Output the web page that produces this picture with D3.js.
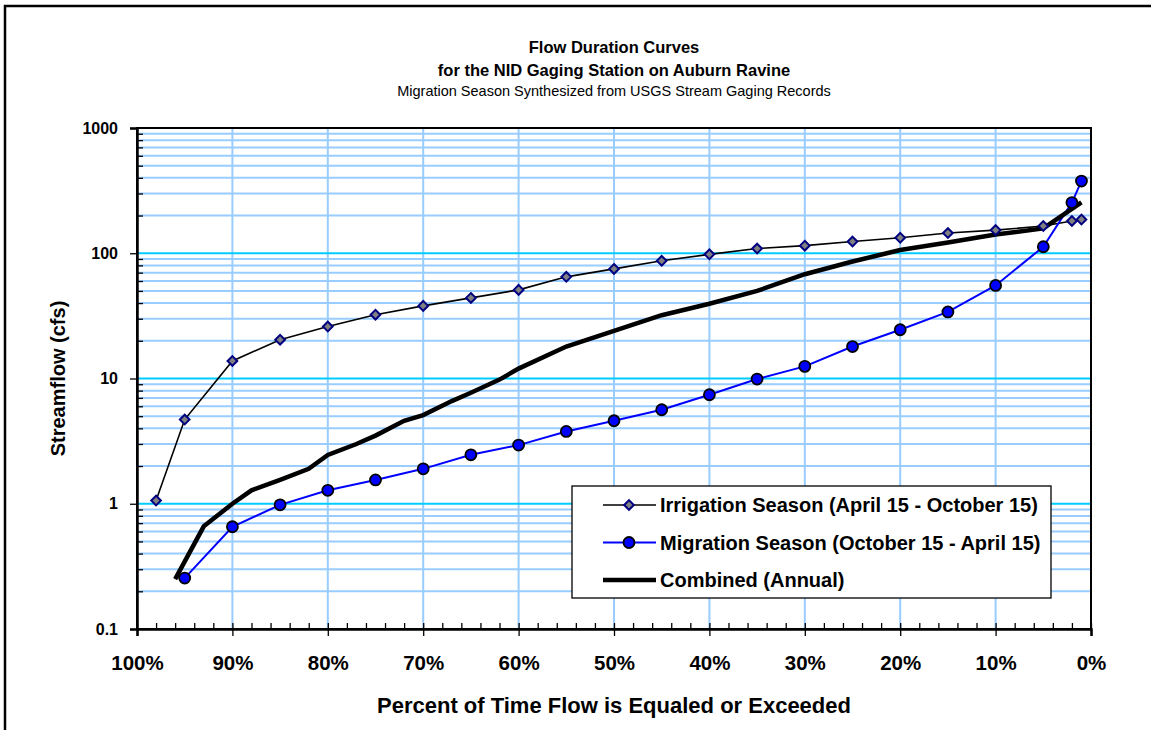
<!DOCTYPE html>
<html>
<head>
<meta charset="utf-8">
<script src="https://cdn.jsdelivr.net/npm/d3@7"></script>
<style>
  body { margin: 0; background: #fff; }
  text { font-family: "Liberation Sans", Arial, sans-serif; }
</style>
</head>
<body>
<div id="container"></div>
<script>
// data
const pctTicks = [100, 90, 80, 70, 60, 50, 40, 30, 20, 10, 0]
const flowTicks = [0.1, 1, 10, 100, 1000]

const irrPct = [98, 95, 90, 85, 80, 75, 70, 65, 60, 55, 50, 45, 40, 35, 30, 25, 20, 15, 10, 5, 2, 1]
const irrFlow = [1.06, 4.7, 13.8, 20.4, 26, 32.3, 38, 44, 51, 64.8, 75, 87, 98, 109, 115, 124, 133, 145, 153, 165, 181, 186]

const migPct = [95, 90, 85, 80, 75, 70, 65, 60, 55, 50, 45, 40, 35, 30, 25, 20, 15, 10, 5, 2, 1]
const migFlow = [0.255, 0.655, 0.98, 1.28, 1.55, 1.9, 2.46, 2.94, 3.78, 4.6, 5.63, 7.42, 9.9, 12.5, 18, 24.5, 34, 55.3, 112.7, 254, 377]

const comPct = [96, 93, 90, 88, 85, 82, 80, 77, 75, 72, 70, 67, 65, 62, 60, 55, 50, 45, 40, 35, 30, 25, 20, 15, 10, 5, 1]
const comFlow = [0.25, 0.66, 1.0, 1.28, 1.55, 1.9, 2.45, 3.0, 3.5, 4.6, 5.1, 6.6, 7.7, 9.8, 12, 18, 24, 32, 39.5, 50, 68, 86, 106, 122, 141, 158, 255]

const legendLabels = [
  "Irrigation Season (April 15 - October 15)",
  "Migration Season (October 15 - April 15)",
  "Combined (Annual)"
]

/**
 * CONSTANTS
 */
const w = 1151
const h = 730
const m = { top: 128, bottom: 101, left: 137, right: 60 }
const width = w - (m.left + m.right)
const height = h - (m.top + m.bottom)

const lightBlue = "#99ccff"
const cyan = "#00ccff"
const font = "Liberation Sans, Arial, sans-serif"

const svg = d3.select("#container")
  .append("svg")
  .attr("width", w)
  .attr("height", h)

// outer frame
svg.append("rect")
  .attr("x", 5).attr("y", 6)
  .attr("width", w + 20).attr("height", h + 20)
  .attr("fill", "#fff")
  .attr("stroke", "#000")
  .attr("stroke-width", 2.5)

// titles
svg.append("text").attr("x", 614).attr("y", 53)
  .attr("text-anchor", "middle").attr("font-size", 16.5).attr("font-weight", "bold")
  .text("Flow Duration Curves")
svg.append("text").attr("x", 614).attr("y", 76)
  .attr("text-anchor", "middle").attr("font-size", 16.5).attr("font-weight", "bold")
  .text("for the NID Gaging Station on Auburn Ravine")
svg.append("text").attr("x", 614).attr("y", 96)
  .attr("text-anchor", "middle").attr("font-size", 14.5)
  .text("Migration Season Synthesized from USGS Stream Gaging Records")

const g = svg.append("g").attr("transform", `translate(${m.left},${m.top})`)

// scales
const x = d3.scaleLinear().domain([100, 0]).range([0, width])
const y = d3.scaleLog().domain([0.1, 1000]).range([height, 0])

// minor values for the log grid
const minorVals = []
for (let dec = 0.1; dec < 1000; dec *= 10) {
  for (let k = 2; k <= 9; k++) minorVals.push(+(dec * k).toPrecision(3))
}

// horizontal grid
g.append("g").selectAll("line")
  .data(minorVals)
  .join("line")
  .attr("x1", 0).attr("x2", width)
  .attr("y1", d => y(d)).attr("y2", d => y(d))
  .attr("stroke", lightBlue).attr("stroke-width", 2)

// vertical grid
g.append("g").selectAll("line")
  .data(pctTicks.slice(1, -1))
  .join("line")
  .attr("x1", d => x(d)).attr("x2", d => x(d))
  .attr("y1", 0).attr("y2", height)
  .attr("stroke", lightBlue).attr("stroke-width", 2)

// major horizontal grid
g.append("g").selectAll("line")
  .data(flowTicks.slice(1, -1))
  .join("line")
  .attr("x1", 0).attr("x2", width)
  .attr("y1", d => y(d)).attr("y2", d => y(d))
  .attr("stroke", cyan).attr("stroke-width", 2)

// plot border
g.append("rect")
  .attr("width", width).attr("height", height)
  .attr("fill", "none").attr("stroke", "#000").attr("stroke-width", 2)

// y axis: minor ticks inside, majors outside
const yMinor = d3.axisRight(y).tickValues(minorVals).tickSize(6).tickFormat("")
g.append("g").call(yMinor)
  .call(s => s.select(".domain").remove())
  .call(s => s.selectAll("line").attr("stroke-width", 1.3))

const yAxis = d3.axisLeft(y).tickValues(flowTicks).tickSize(7).tickPadding(12)
  .tickFormat(d => d < 1 ? "0.1" : d3.format("d")(d))
g.append("g").call(yAxis)
  .call(s => s.select(".domain").attr("stroke-width", 2.5))
  .call(s => s.selectAll("line").attr("stroke-width", 1.3))
  .call(s => s.selectAll("text").attr("font-size", 16).attr("font-weight", "bold")
    .attr("font-family", font).attr("fill", "#000"))

// x axis: minor ticks every 2% above the axis, majors below
const xMinor = d3.axisTop(x).tickValues(d3.range(100, -1, -2)).tickSize(6).tickFormat("")
g.append("g").attr("transform", `translate(0,${height})`).call(xMinor)
  .call(s => s.select(".domain").remove())
  .call(s => s.selectAll("line").attr("stroke-width", 1.3))

const xAxis = d3.axisBottom(x).tickValues(pctTicks).tickSize(7).tickPadding(19)
  .tickFormat(d => d + "%")
g.append("g").attr("transform", `translate(0,${height})`).call(xAxis)
  .call(s => s.select(".domain").attr("stroke-width", 2.5))
  .call(s => s.selectAll("line").attr("stroke-width", 1.3))
  .call(s => s.selectAll("text").attr("font-size", 20.5).attr("font-weight", "bold")
    .attr("font-family", font).attr("fill", "#000"))

// axis titles
svg.append("text")
  .attr("transform", `translate(65,${m.top + height / 2}) rotate(-90)`)
  .attr("text-anchor", "middle").attr("font-size", 20).attr("font-weight", "bold")
  .text("Streamflow (cfs)")
svg.append("text")
  .attr("x", m.left + width / 2).attr("y", 713)
  .attr("text-anchor", "middle").attr("font-size", 22).attr("font-weight", "bold")
  .text("Percent of Time Flow is Equaled or Exceeded")

// series
const line = d3.line().x(d => x(d[0])).y(d => y(d[1]))
const irr = d3.zip(irrPct, irrFlow)
const mig = d3.zip(migPct, migFlow)
const com = d3.zip(comPct, comFlow)

g.append("path").datum(irr).attr("d", line)
  .attr("fill", "none").attr("stroke", "#000").attr("stroke-width", 1.6)
g.append("path").datum(mig).attr("d", line)
  .attr("fill", "none").attr("stroke", "#0000ff").attr("stroke-width", 2)
g.append("path").datum(com).attr("d", line)
  .attr("fill", "none").attr("stroke", "#000").attr("stroke-width", 4.5)

const diamond = d3.symbol().type(d3.symbolDiamond2).size(60)

g.append("g").selectAll("path")
  .data(irr)
  .join("path")
  .attr("transform", d => `translate(${x(d[0])},${y(d[1])})`)
  .attr("d", diamond)
  .attr("fill", "#808080").attr("stroke", "#000080").attr("stroke-width", 2)

g.append("g").selectAll("circle")
  .data(mig)
  .join("circle")
  .attr("cx", d => x(d[0])).attr("cy", d => y(d[1]))
  .attr("r", 5.5)
  .attr("fill", "#0000ff").attr("stroke", "#000").attr("stroke-width", 1.8)

// legend
const lg = svg.append("g").attr("transform", "translate(572,486)")
lg.append("rect").attr("width", 479).attr("height", 112)
  .attr("fill", "#fff").attr("stroke", "#000").attr("stroke-width", 1.3)

const rows = lg.selectAll("g.row")
  .data(legendLabels)
  .join("g")
  .attr("class", "row")
  .attr("transform", (d, i) => `translate(0,${19 + i * 37.5})`)

rows.append("line")
  .attr("x1", 31).attr("x2", 84)
  .attr("stroke", (d, i) => i === 1 ? "#0000ff" : "#000")
  .attr("stroke-width", (d, i) => i === 2 ? 4.5 : (i === 1 ? 2 : 1.6))

rows.filter((d, i) => i === 0).append("path")
  .attr("transform", "translate(57,0)")
  .attr("d", diamond)
  .attr("fill", "#808080").attr("stroke", "#000080").attr("stroke-width", 2)

rows.filter((d, i) => i === 1).append("circle")
  .attr("cx", 57).attr("r", 5.5)
  .attr("fill", "#0000ff").attr("stroke", "#000").attr("stroke-width", 1.8)

rows.append("text")
  .attr("x", 88).attr("dy", "0.36em")
  .attr("font-size", 20).attr("font-weight", "bold")
  .text(d => d)
</script>
</body>
</html>
